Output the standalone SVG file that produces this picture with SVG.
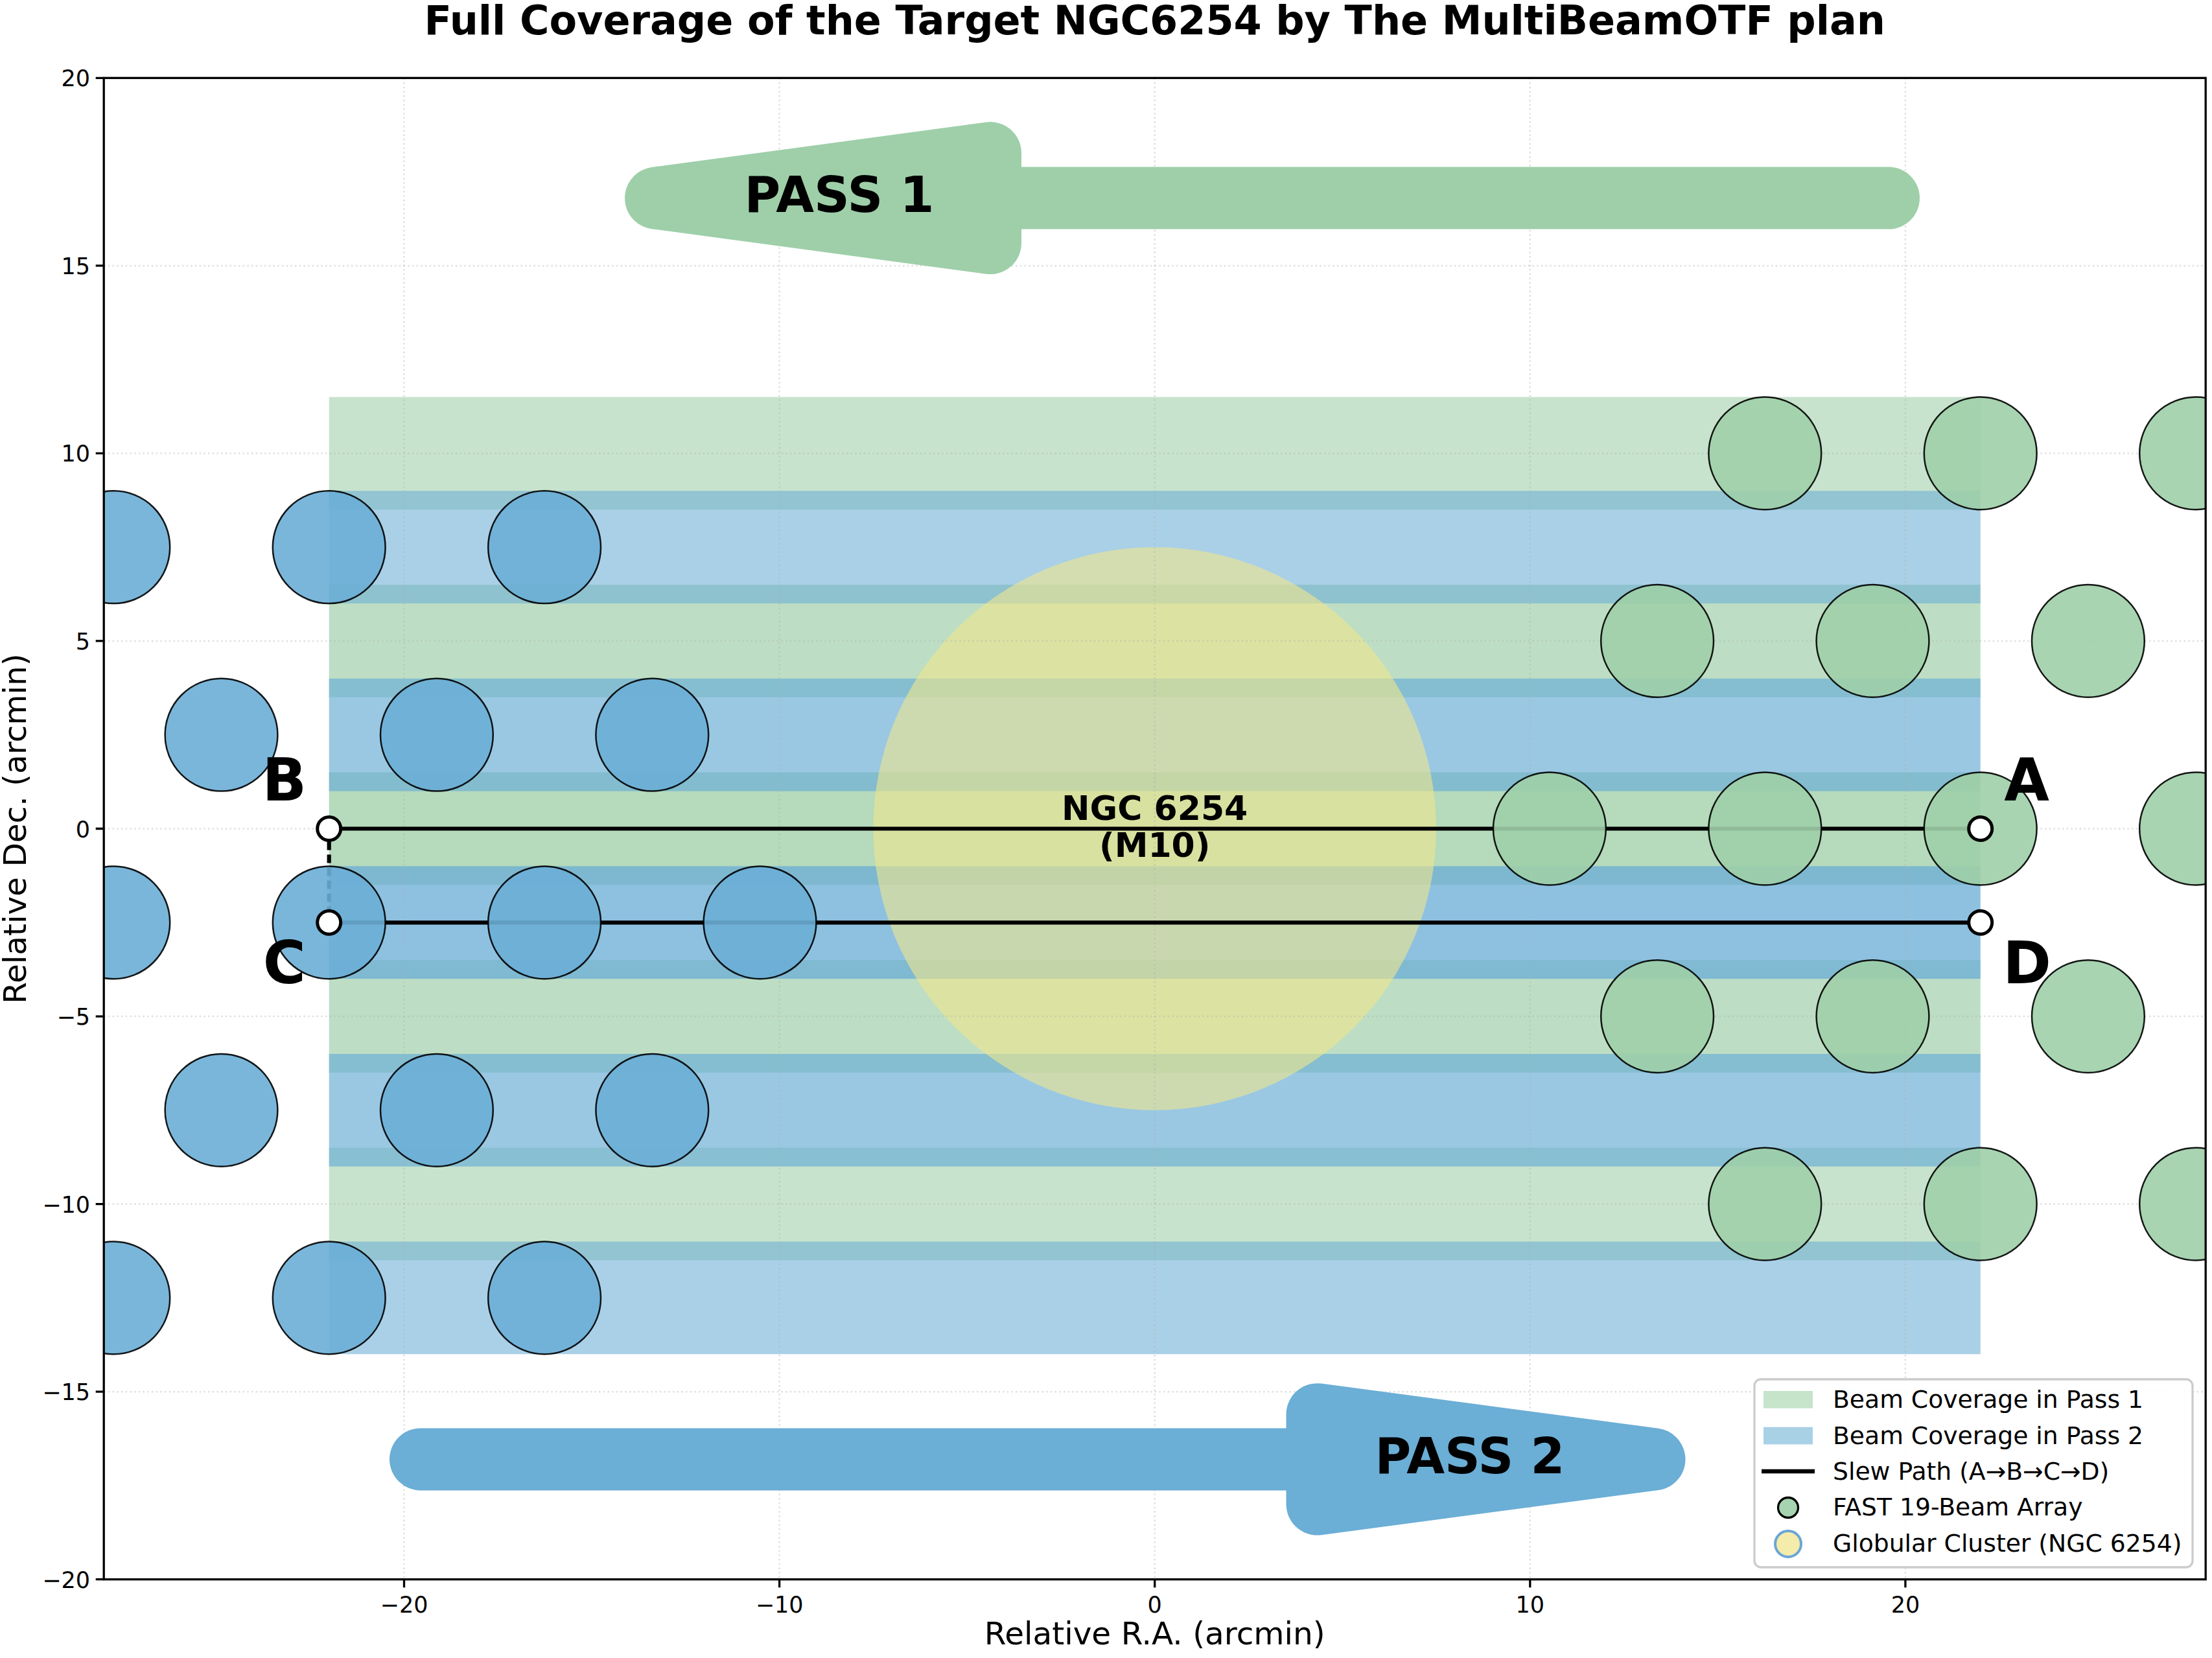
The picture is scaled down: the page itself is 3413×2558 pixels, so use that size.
<svg xmlns="http://www.w3.org/2000/svg" width="3413" height="2558" viewBox="0 0 3413 2558">
<style>
text{font-family:"DejaVu Sans","Liberation Sans",sans-serif;fill:#000}
.b{font-weight:bold}
.tick{font-size:35px}
.axl{font-size:48.5px}
.leg{font-size:37.7px}
.g{fill:#9ecfa8}
.bl{fill:#6baed6}
.beamG{fill:#9ecfa8;fill-opacity:0.9;stroke:#000;stroke-opacity:0.9;stroke-width:2.5}
.beamB{fill:#6baed6;fill-opacity:0.9;stroke:#000;stroke-opacity:0.9;stroke-width:2.5}
.grid{stroke:#b0b0b0;stroke-opacity:0.4;stroke-width:2.5;stroke-dasharray:2.5 4.2;fill:none}
.mk{fill:#fff;stroke:#000;stroke-width:5}
.tk{stroke:#000;stroke-width:3.3}
</style>
<defs>
<clipPath id="ax"><rect x="160.2" y="120.3" width="3243" height="2316.4"/></clipPath>
</defs>
<rect width="3413" height="2558" fill="#fff"/>
<text class="b" x="1781.7" y="52.7" text-anchor="middle" font-size="62">Full Coverage of the Target NGC6254 by The MultiBeamOTF plan</text>
<g clip-path="url(#ax)">
<g id="pass1-coverage" class="g">
<rect x="507.7" y="612.5" width="2548" height="173.7" fill-opacity="0.578"/>
<rect x="507.7" y="902.1" width="2548" height="173.7" fill-opacity="0.684"/>
<rect x="507.7" y="1191.6" width="2548" height="173.7" fill-opacity="0.763"/>
<rect x="507.7" y="1481.2" width="2548" height="173.7" fill-opacity="0.684"/>
<rect x="507.7" y="1770.7" width="2548" height="173.7" fill-opacity="0.578"/>
</g>
<g id="pass2-coverage" class="bl">
<rect x="507.7" y="757.3" width="2548" height="173.7" fill-opacity="0.578"/>
<rect x="507.7" y="1046.9" width="2548" height="173.7" fill-opacity="0.684"/>
<rect x="507.7" y="1336.4" width="2548" height="173.7" fill-opacity="0.763"/>
<rect x="507.7" y="1626.0" width="2548" height="173.7" fill-opacity="0.684"/>
<rect x="507.7" y="1915.5" width="2548" height="173.7" fill-opacity="0.578"/>
</g>
<g id="cluster"><circle cx="1781.7" cy="1278.5" r="434.3" fill="#f0e68c" fill-opacity="0.6"/></g>
<g id="grid" class="grid">
<path d="M623.5 120.3V2436.7M1202.6 120.3V2436.7M1781.7 120.3V2436.7M2360.8 120.3V2436.7M2939.9 120.3V2436.7"/>
<path d="M160.2 409.9H3403.2M160.2 699.4H3403.2M160.2 988.9H3403.2M160.2 1278.5H3403.2M160.2 1568.1H3403.2M160.2 1857.6H3403.2M160.2 2147.2H3403.2"/>
</g>
<g id="connectors" fill="none" stroke="#000">
<path id="slew-AB" d="M3055.7 1278.5H507.7" stroke-width="6.2"/>
<path id="slew-BC" d="M507.7 1278.5V1423.3" stroke-width="6.2" stroke-dasharray="13 7"/>
<path id="slew-CD" d="M507.7 1423.3H3055.7" stroke-width="6.2"/>
</g>
<g id="beams-pass1">
<circle class="beamG" cx="2723.3" cy="699.4" r="86.9"/>
<circle class="beamG" cx="3055.7" cy="699.4" r="86.9"/>
<circle class="beamG" cx="3388.1" cy="699.4" r="86.9"/>
<circle class="beamG" cx="2557.1" cy="988.9" r="86.9"/>
<circle class="beamG" cx="2889.5" cy="988.9" r="86.9"/>
<circle class="beamG" cx="3221.9" cy="988.9" r="86.9"/>
<circle class="beamG" cx="2390.9" cy="1278.5" r="86.9"/>
<circle class="beamG" cx="2723.3" cy="1278.5" r="86.9"/>
<circle class="beamG" cx="3055.7" cy="1278.5" r="86.9"/>
<circle class="beamG" cx="3388.1" cy="1278.5" r="86.9"/>
<circle class="beamG" cx="2557.1" cy="1568.1" r="86.9"/>
<circle class="beamG" cx="2889.5" cy="1568.1" r="86.9"/>
<circle class="beamG" cx="3221.9" cy="1568.1" r="86.9"/>
<circle class="beamG" cx="2723.3" cy="1857.6" r="86.9"/>
<circle class="beamG" cx="3055.7" cy="1857.6" r="86.9"/>
<circle class="beamG" cx="3388.1" cy="1857.6" r="86.9"/>
</g>
<g id="beams-pass2">
<circle class="beamB" cx="175.3" cy="844.2" r="86.9"/>
<circle class="beamB" cx="507.7" cy="844.2" r="86.9"/>
<circle class="beamB" cx="840.1" cy="844.2" r="86.9"/>
<circle class="beamB" cx="341.5" cy="1133.7" r="86.9"/>
<circle class="beamB" cx="673.9" cy="1133.7" r="86.9"/>
<circle class="beamB" cx="1006.3" cy="1133.7" r="86.9"/>
<circle class="beamB" cx="175.3" cy="1423.3" r="86.9"/>
<circle class="beamB" cx="507.7" cy="1423.3" r="86.9"/>
<circle class="beamB" cx="840.1" cy="1423.3" r="86.9"/>
<circle class="beamB" cx="1172.5" cy="1423.3" r="86.9"/>
<circle class="beamB" cx="341.5" cy="1712.8" r="86.9"/>
<circle class="beamB" cx="673.9" cy="1712.8" r="86.9"/>
<circle class="beamB" cx="1006.3" cy="1712.8" r="86.9"/>
<circle class="beamB" cx="175.3" cy="2002.4" r="86.9"/>
<circle class="beamB" cx="507.7" cy="2002.4" r="86.9"/>
<circle class="beamB" cx="840.1" cy="2002.4" r="86.9"/>
</g>
<g id="points">
<circle id="pt-A" class="mk" cx="3055.7" cy="1278.5" r="18"/>
<circle id="pt-B" class="mk" cx="507.7" cy="1278.5" r="18"/>
<circle id="pt-C" class="mk" cx="507.7" cy="1423.3" r="18"/>
<circle id="pt-D" class="mk" cx="3055.7" cy="1423.3" r="18"/>
</g>
<g id="arrow-pass1" fill="#9ecfa9" stroke="#9ecfa9" stroke-width="96">
<path d="M1528 305.6H2914" stroke-linecap="round" fill="none"/>
<path d="M1012 305.6L1528 236.1L1528 375.1Z" stroke-linejoin="round"/>
<text class="b" x="1295" y="327" text-anchor="middle" font-size="76" stroke="none" fill="#000">PASS 1</text>
</g>
<g id="arrow-pass2" fill="#6baed6" stroke="#6baed6" stroke-width="96">
<path d="M649 2251.4H2032.5" stroke-linecap="round" fill="none"/>
<path d="M2552.5 2251.4L2032.5 2182.2L2032.5 2320.6Z" stroke-linejoin="round"/>
<text class="b" x="2268" y="2273" text-anchor="middle" font-size="76" stroke="none" fill="#000">PASS 2</text>
</g>
<g id="labels" class="b">
<text x="1781.7" y="1265" text-anchor="middle" font-size="52">NGC 6254</text>
<text x="1781.7" y="1322" text-anchor="middle" font-size="52">(M10)</text>
<text x="3127" y="1235" text-anchor="middle" font-size="90">A</text>
<text x="438.8" y="1235" text-anchor="middle" font-size="90">B</text>
<text x="438.8" y="1517" text-anchor="middle" font-size="90">C</text>
<text x="3127.5" y="1517" text-anchor="middle" font-size="90">D</text>
</g>
</g>
<g id="axes">
<rect x="160.2" y="120.3" width="3243" height="2316.4" fill="none" stroke="#000" stroke-width="3.3"/>
<path class="tk" d="M147.7 120.3H160.2M147.7 409.9H160.2M147.7 699.4H160.2M147.7 988.9H160.2M147.7 1278.5H160.2M147.7 1568.1H160.2M147.7 1857.6H160.2M147.7 2147.2H160.2M147.7 2436.7H160.2"/>
<path class="tk" d="M623.5 2436.7V2449.2M1202.6 2436.7V2449.2M1781.7 2436.7V2449.2M2360.8 2436.7V2449.2M2939.9 2436.7V2449.2"/>
<g class="tick" text-anchor="end">
<text x="139" y="133.3">20</text>
<text x="139" y="422.9">15</text>
<text x="139" y="712.4">10</text>
<text x="139" y="1001.9">5</text>
<text x="139" y="1291.5">0</text>
<text x="139" y="1581.1">−5</text>
<text x="139" y="1870.6">−10</text>
<text x="139" y="2160.2">−15</text>
<text x="139" y="2449.7">−20</text>
</g>
<g class="tick" text-anchor="middle">
<text x="623.5" y="2488">−20</text>
<text x="1202.6" y="2488">−10</text>
<text x="1781.7" y="2488">0</text>
<text x="2360.8" y="2488">10</text>
<text x="2939.9" y="2488">20</text>
</g>
<text class="axl" x="1781.7" y="2537" text-anchor="middle">Relative R.A. (arcmin)</text>
<text class="axl" transform="translate(40 1278.5) rotate(-90)" text-anchor="middle">Relative Dec. (arcmin)</text>
</g>
<g id="legend">
<rect x="2707" y="2128" width="676" height="290" rx="10" fill="#fff" fill-opacity="0.85" stroke="#cccccc" stroke-width="3.3"/>
<rect x="2721" y="2146" width="76" height="26.7" fill="#c5e4ca"/>
<rect x="2721" y="2201.7" width="76" height="26.7" fill="#a9d1e6"/>
<path d="M2718 2270H2800" stroke="#000" stroke-width="6.5"/>
<circle cx="2759" cy="2326" r="15.5" fill="#a6d4b1" stroke="#000" stroke-width="3.3"/>
<circle cx="2759" cy="2382" r="20" fill="#f4ecab" stroke="#6aa6d6" stroke-width="4"/>
<g class="leg">
<text x="2828" y="2172">Beam Coverage in Pass 1</text>
<text x="2828" y="2228">Beam Coverage in Pass 2</text>
<text x="2828" y="2283">Slew Path (A→B→C→D)</text>
<text x="2828" y="2338">FAST 19-Beam Array</text>
<text x="2828" y="2394">Globular Cluster (NGC 6254)</text>
</g>
</g>
</svg>
